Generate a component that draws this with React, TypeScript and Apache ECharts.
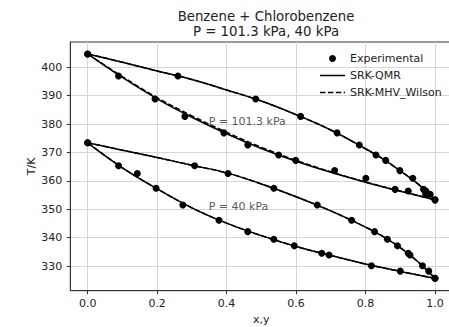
import React, { useEffect, useRef } from "react";
import * as echarts from "echarts";

// ---- tick labels ----
const xTicks = [0, 0.2, 0.4, 0.6, 0.8, 1.0];
const yTicks = [330, 340, 350, 360, 370, 380, 390, 400];

// ---- experimental data, P = 101.3 kPa ----
const exp101X = [0, 0.089, 0.194, 0.28, 0.392, 0.461, 0.55, 0.599, 0.711, 0.801, 0.885, 0.923, 0.973, 1.0];
const exp101Y = [0, 0.26, 0.484, 0.613, 0.718, 0.782, 0.83, 0.858, 0.899, 0.936, 0.967, 0.974, 0.986, 1.0];
const exp101T = [404.7, 396.9, 388.8, 382.7, 376.9, 372.6, 369.1, 367.2, 363.6, 360.9, 357.0, 356.4, 355.3, 353.3];

// ---- experimental data, P = 40 kPa ----
const exp40X = [0, 0.089, 0.143, 0.197, 0.274, 0.378, 0.461, 0.536, 0.595, 0.674, 0.695, 0.817, 0.9, 1.0];
const exp40Y = [0, 0.308, 0.404, 0.536, 0.661, 0.76, 0.826, 0.863, 0.892, 0.923, 0.928, 0.964, 0.982, 1.0];
const exp40T = [373.4, 365.3, 362.6, 357.4, 351.5, 346.1, 342.1, 339.4, 337.1, 334.5, 333.9, 330.1, 328.2, 325.7];

// ---- SRK-QMR model curves ----
const qmrBub101X = [0, 0.1, 0.2, 0.3, 0.4, 0.5, 0.6, 0.7, 0.8, 0.9, 1.0];
const qmrBub101T = [404.7, 396.4, 388.9, 382.4, 376.6, 371.4, 366.9, 363.0, 359.5, 356.3, 353.3];
const qmrDew101X = [0, 0.1, 0.2, 0.3, 0.4, 0.5, 0.6, 0.7, 0.8, 0.85, 0.9, 0.95, 1.0];
const qmrDew101T = [404.7, 401.8, 398.7, 395.7, 392.0, 388.1, 383.3, 377.9, 371.3, 367.7, 363.5, 359.0, 353.3];
const qmrBub40X = [0, 0.1, 0.2, 0.3, 0.4, 0.5, 0.6, 0.7, 0.8, 0.9, 1.0];
const qmrBub40T = [373.4, 364.6, 357.2, 350.5, 345.1, 340.7, 336.9, 333.7, 330.7, 328.1, 325.7];
const qmrDew40X = [0, 0.1, 0.2, 0.3, 0.4, 0.5, 0.6, 0.7, 0.8, 0.85, 0.9, 0.95, 1.0];
const qmrDew40T = [373.4, 370.8, 368.2, 365.5, 362.8, 358.9, 354.4, 349.4, 343.7, 340.4, 336.5, 331.6, 325.7];

// ---- SRK-MHV_Wilson model curves ----
const mhvBub101X = [0, 0.1, 0.2, 0.3, 0.4, 0.5, 0.6, 0.7, 0.8, 0.9, 1.0];
const mhvBub101T = [404.7, 396.7, 389.3, 382.9, 377.1, 371.8, 367.2, 363.2, 359.6, 356.4, 353.3];
const mhvDew101X = [0, 0.1, 0.2, 0.3, 0.4, 0.5, 0.6, 0.7, 0.8, 0.85, 0.9, 0.95, 1.0];
const mhvDew101T = [404.7, 401.8, 398.7, 395.7, 392.0, 388.1, 383.3, 377.9, 371.3, 367.7, 363.5, 359.0, 353.3];
const mhvBub40X = [0, 0.1, 0.2, 0.3, 0.4, 0.5, 0.6, 0.7, 0.8, 0.9, 1.0];
const mhvBub40T = [373.4, 364.6, 357.2, 350.5, 345.1, 340.7, 336.9, 333.7, 330.7, 328.1, 325.7];
const mhvDew40X = [0, 0.1, 0.2, 0.3, 0.4, 0.5, 0.6, 0.7, 0.8, 0.85, 0.9, 0.95, 1.0];
const mhvDew40T = [373.4, 370.8, 368.2, 365.5, 362.8, 358.9, 354.4, 349.4, 343.7, 340.4, 336.5, 331.6, 325.7];

// ---- annotations ----
const annotationText = ["P = 101.3 kPa", "P = 40 kPa"];
const annotationX = [0.35, 0.35];
const annotationT = [380, 350];

const zip = (xs: number[], ys: number[]) => xs.map((x, i) => [x, ys[i]]);

const FONT = "DejaVu Sans";
const TXT = "#222";
const SOLID_ICON = "path://M0,0h25v1.5h-25z";
const DASH_ICON = "path://M0,0h5.5v1.5h-5.5zM7.9,0h5.5v1.5h-5.5zM15.8,0h5.5v1.5h-5.5zM23.7,0h1.3v1.5h-1.3z";

export default function App() {
  const ref = useRef<HTMLDivElement>(null);
  useEffect(() => {
    document.body.style.margin = "0";
    if (!ref.current) return;
    const chart = echarts.init(ref.current, undefined, { renderer: "svg" });

    const lineSeries = (name: string, xs: number[], ts: number[], dashed: boolean) => ({
      name,
      type: "line",
      data: zip(xs, ts),
      smooth: 0.4,
      symbol: "none",
      showSymbol: false,
      z: dashed ? 3 : 2,
      lineStyle: { color: "#000", width: 1.5, type: dashed ? [5.5, 2.4] : "solid" },
      itemStyle: { color: "#000" },
    });
    const expSeries = (xs: number[], ts: number[]) => ({
      name: "Experimental",
      type: "scatter",
      data: zip(xs, ts),
      symbol: "circle",
      symbolSize: 7,
      z: 5,
      itemStyle: { color: "#000", opacity: 1 },
    });

    const option: any = {
      animation: false,
      title: {
        text: "Benzene + Chlorobenzene\nP = 101.3 kPa, 40 kPa",
        left: 261,
        top: 3.5,
        textAlign: "center",
        textStyle: { fontFamily: FONT, fontSize: 13.3, fontWeight: "normal", color: TXT, lineHeight: 15.5 },
      },
      legend: {
        orient: "vertical",
        left: 315,
        top: 47,
        itemWidth: 25,
        itemHeight: 7,
        itemGap: 4,
        textStyle: { fontFamily: FONT, fontSize: 11, color: TXT, lineHeight: 13 },
        data: [
          { name: "Experimental", icon: "circle" },
          { name: "SRK-QMR", icon: SOLID_ICON },
          { name: "SRK-MHV_Wilson", icon: DASH_ICON },
        ],
      },
      grid: {
        left: 70.3,
        top: 42,
        right: -3.35,
        bottom: 36.3,
        outerBoundsMode: "none",
        containLabel: false,
        show: true,
        borderColor: "#333",
        borderWidth: 1,
        backgroundColor: "transparent",
      },
      xAxis: {
        type: "value",
        min: -0.05,
        max: 1.05,
        name: "x,y",
        nameLocation: "middle",
        nameGap: 21,
        nameTextStyle: { fontFamily: FONT, fontSize: 11, color: TXT },
        axisLine: { show: true, onZero: false, lineStyle: { color: "#333", width: 1 } },
        axisTick: { show: true, length: 3.5, lineStyle: { color: "#333", width: 1 }, customValues: xTicks },
        axisLabel: {
          fontFamily: FONT,
          fontSize: 11,
          color: TXT,
          margin: 7,
          customValues: xTicks,
          formatter: (v: number) => v.toFixed(1),
        },
        splitLine: { show: true, lineStyle: { color: "#d6d6d6", width: 1 } },
      },
      yAxis: {
        type: "value",
        min: 321.3,
        max: 408.9,
        name: "T/K",
        nameLocation: "middle",
        nameGap: 33,
        nameRotate: 90,
        nameMoveOverlap: false,
        nameTextStyle: { fontFamily: FONT, fontSize: 11, color: TXT },
        axisLine: { show: true, onZero: false, lineStyle: { color: "#333", width: 1 } },
        axisTick: { show: true, length: 3.5, lineStyle: { color: "#333", width: 1 }, customValues: yTicks },
        axisLabel: {
          fontFamily: FONT,
          fontSize: 11,
          color: TXT,
          margin: 8,
          customValues: yTicks,
          formatter: (v: number) => String(Math.round(v)),
        },
        splitLine: { show: true, lineStyle: { color: "#d6d6d6", width: 1 } },
      },
      series: [
        lineSeries("SRK-QMR", qmrBub101X, qmrBub101T, false),
        lineSeries("SRK-QMR", qmrDew101X, qmrDew101T, false),
        lineSeries("SRK-QMR", qmrBub40X, qmrBub40T, false),
        lineSeries("SRK-QMR", qmrDew40X, qmrDew40T, false),
        lineSeries("SRK-MHV_Wilson", mhvBub101X, mhvBub101T, true),
        lineSeries("SRK-MHV_Wilson", mhvDew101X, mhvDew101T, true),
        lineSeries("SRK-MHV_Wilson", mhvBub40X, mhvBub40T, true),
        lineSeries("SRK-MHV_Wilson", mhvDew40X, mhvDew40T, true),
        expSeries(exp101X, exp101T),
        expSeries(exp101Y, exp101T),
        expSeries(exp40X, exp40T),
        expSeries(exp40Y, exp40T),
        {
          name: "annotations",
          type: "scatter",
          symbolSize: 1,
          itemStyle: { color: "transparent" },
          z: 6,
          silent: true,
          data: annotationText.map((t, i) => ({ value: [annotationX[i], annotationT[i]], name: t })),
          label: {
            show: true,
            position: [0, 0],
            align: "left",
            verticalAlign: "bottom",
            offset: [0, 3],
            formatter: (p: any) => p.name,
            fontFamily: FONT,
            fontSize: 11,
            color: "#2a2a2a",
            textBorderWidth: 0,
          },
        },
      ],
    };
    chart.setOption(option);
    return () => chart.dispose();
  }, []);
  return (
    <div style={{ width: 449, height: 327, overflow: "hidden" }}>
      <div ref={ref} style={{ width: 449, height: 327 }} />
    </div>
  );
}
